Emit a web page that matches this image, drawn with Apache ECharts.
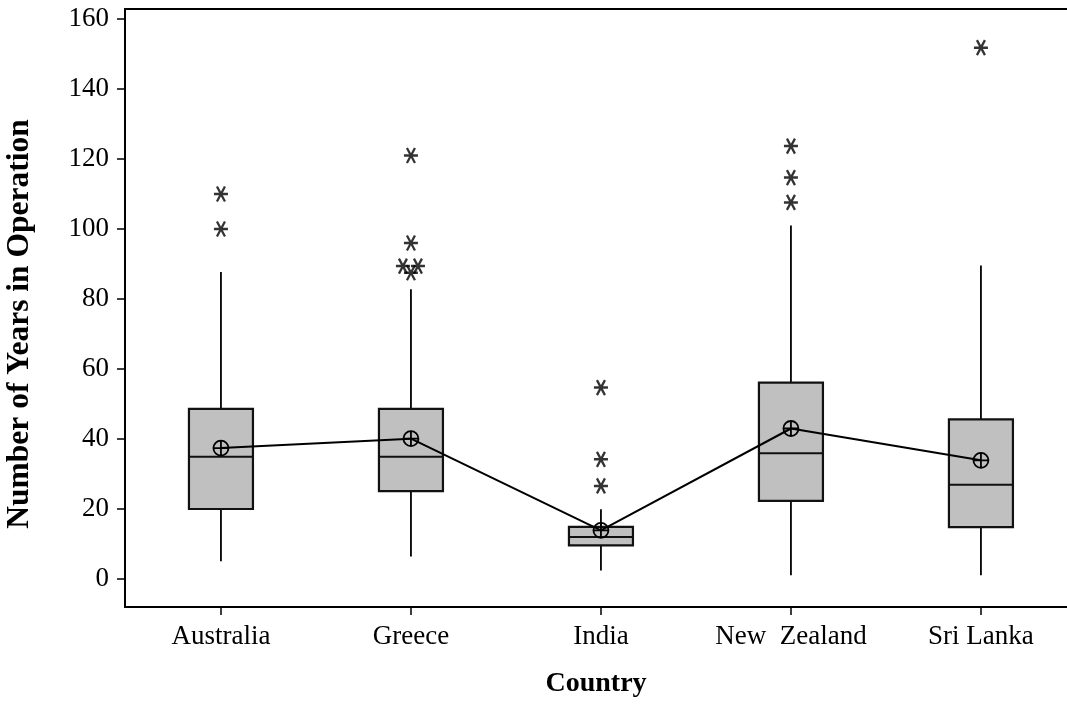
<!DOCTYPE html>
<html>
<head>
<meta charset="utf-8">
<script src="https://cdn.jsdelivr.net/npm/echarts@6/dist/echarts.min.js"></script>
<style>
html,body{margin:0;padding:0;background:#fff;}
#chart{width:1067px;height:704px;}
</style>
</head>
<body>
<div id="chart"></div>
<script>
// ---- data ----
const countries = ['Australia', 'Greece', 'India', 'New  Zealand', 'Sri Lanka'];
const whiskerLow  = [5.1, 6.4, 2.4, 1.1, 1.1];
const q1          = [20.0, 25.1, 9.6, 22.3, 14.8];
const median      = [34.9, 34.9, 12.0, 35.9, 26.9];
const q3          = [48.6, 48.6, 14.9, 56.1, 45.6];
const whiskerHigh = [87.7, 82.8, 19.9, 101.0, 89.6];
const means       = [37.4, 40.1, 13.9, 43.0, 33.9];
// outliers: [country index, value]
const outliers = [
  [0, 110], [0, 100],
  [1, 121], [1, 96], [1, 89.4], [1, 89.4], [1, 87.5],
  [2, 54.7], [2, 34.2], [2, 26.6],
  [3, 123.7], [3, 114.7], [3, 107.6],
  [4, 151.8]
];
const yTicks = [0, 20, 40, 60, 80, 100, 120, 140, 160];
const xTicks = [1, 2, 3, 4, 5];
const yTitle = 'Number of Years in Operation';
const xTitle = 'Country';

// ---- build options ----
const FONT = "'Liberation Serif', 'Times New Roman', serif";
const boxData = countries.map((c, i) => [i + 1, whiskerLow[i], q1[i], median[i], q3[i], whiskerHigh[i]]);
const meanData = countries.map((c, i) => [i + 1, means[i]]);

// ties among outliers are drawn side by side (style offset)
const seen = {};
const outlierData = outliers.map(o => {
  const key = o[0] + '_' + o[1];
  const dupCount = outliers.filter(p => p[0] === o[0] && p[1] === o[1]).length;
  seen[key] = (seen[key] || 0) + 1;
  let off = 0;
  if (dupCount > 1) off = seen[key] === 1 ? -8 : 7;
  return { value: [o[0] + 1, o[1]], symbolOffset: [off, 0] };
});

const chart = echarts.init(document.getElementById('chart'), null, { renderer: 'canvas' });
const BOX_HALF = 32;

const option = {
  animation: false,
  backgroundColor: '#fff',
  grid: { left: 125, right: 0, top: 9, bottom: 97, containLabel: false, outerBoundsMode: 'none' },
  xAxis: [{
    type: 'value',
    min: 0.495, max: 5.453,
    name: xTitle,
    nameLocation: 'middle',
    nameGap: 63,
    nameMoveOverlap: false,
    nameTextStyle: { fontFamily: FONT, fontSize: 28, fontWeight: 'bold', color: '#000' },
    splitLine: { show: false },
    axisLine: { show: true, onZero: false, lineStyle: { color: '#000', width: 2 } },
    axisTick: { show: true, customValues: xTicks, length: 8, inside: false, lineStyle: { color: '#000', width: 1.5 } },
    axisLabel: {
      customValues: xTicks,
      formatter: v => countries[Math.round(v) - 1] || '',
      fontFamily: FONT, fontSize: 27, color: '#000', margin: 16
    }
  }, {
    type: 'value', position: 'top',
    min: 0.495, max: 5.453,
    splitLine: { show: false },
    axisLine: { show: true, onZero: false, lineStyle: { color: '#000', width: 2 } },
    axisTick: { show: false }, axisLabel: { show: false }
  }],
  yAxis: {
    type: 'value',
    min: -8, max: 162.86,
    name: yTitle,
    nameLocation: 'middle',
    nameGap: 89,
    nameRotate: 90,
    nameMoveOverlap: false,
    nameTextStyle: { fontFamily: FONT, fontSize: 31.5, fontWeight: 'bold', color: '#000', padding: [0, 32, 0, 0] },
    splitLine: { show: false },
    axisLine: { show: true, onZero: false, lineStyle: { color: '#000', width: 2 } },
    axisTick: { show: true, customValues: yTicks, length: 8, lineStyle: { color: '#000', width: 1.5 } },
    axisLabel: { customValues: yTicks, fontFamily: FONT, fontSize: 27, color: '#000', margin: 16 }
  },
  series: [{
    type: 'custom',
    z: 1,
    data: boxData,
    encode: { x: 0, y: [1, 2, 3, 4, 5] },
    renderItem: function (params, api) {
      const x = api.value(0);
      const pLo = api.coord([x, api.value(1)]);
      const pQ1 = api.coord([x, api.value(2)]);
      const pMed = api.coord([x, api.value(3)]);
      const pQ3 = api.coord([x, api.value(4)]);
      const pHi = api.coord([x, api.value(5)]);
      const ls = { stroke: '#000', lineWidth: 1.8 };
      return {
        type: 'group',
        children: [
          { type: 'line', shape: { x1: pHi[0], y1: pHi[1], x2: pQ3[0], y2: pQ3[1] }, style: ls },
          { type: 'line', shape: { x1: pQ1[0], y1: pQ1[1], x2: pLo[0], y2: pLo[1] }, style: ls },
          { type: 'rect', shape: { x: pQ3[0] - BOX_HALF, y: pQ3[1], width: BOX_HALF * 2, height: pQ1[1] - pQ3[1] },
            style: { fill: '#c0c0c0', stroke: '#111', lineWidth: 2.2 } },
          { type: 'line', shape: { x1: pMed[0] - BOX_HALF, y1: pMed[1], x2: pMed[0] + BOX_HALF, y2: pMed[1] },
            style: { stroke: '#111', lineWidth: 2 } }
        ]
      };
    }
  }, {
    type: 'line',
    z: 3,
    data: meanData,
    symbol: 'path://M0,7 A7,7 0 1,1 14,7 A7,7 0 1,1 0,7 Z M7,0 L7,14 M0,7 L14,7',
    symbolSize: 15,
    itemStyle: { color: 'rgba(0,0,0,0)', borderColor: '#000', borderWidth: 1.8 },
    lineStyle: { color: '#000', width: 2 },
    emphasis: { disabled: true }
  }, {
    type: 'scatter',
    z: 3,
    data: outlierData,
    symbol: 'path://M0,7.5 L14,7.5 M3,0 L11,15 M11,0 L3,15',
    symbolSize: [14, 15],
    itemStyle: { color: 'rgba(0,0,0,0)', borderColor: '#000', borderWidth: 2.4 },
    emphasis: { disabled: true }
  }]
};
chart.setOption(option);
</script>
</body>
</html>
